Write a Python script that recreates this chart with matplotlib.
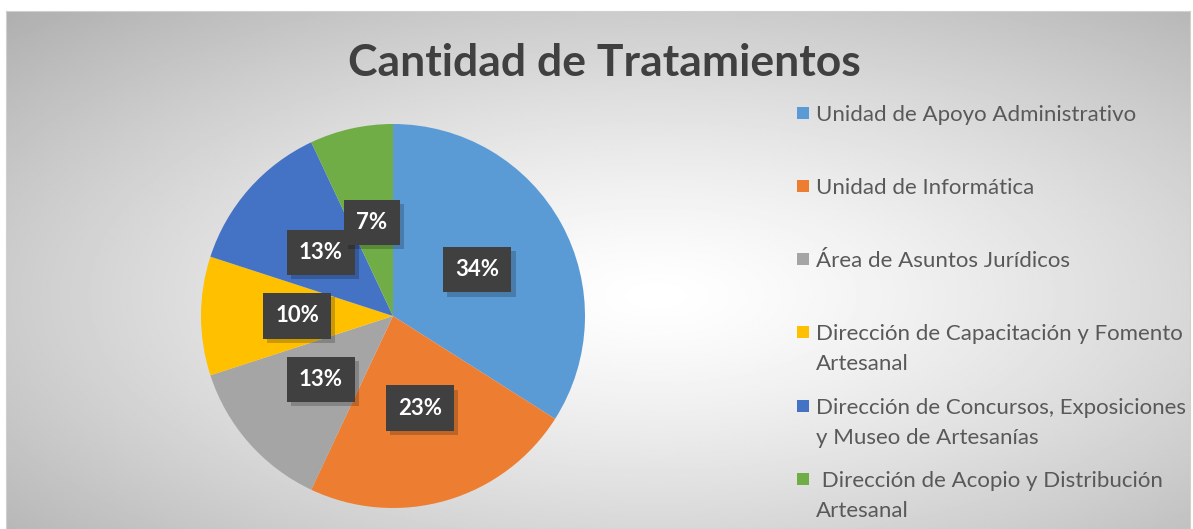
import numpy as np
import matplotlib.pyplot as plt
import matplotlib.patheffects as pe
from matplotlib.patches import Rectangle

# Data
labels = ['Unidad de Apoyo Administrativo',
          'Unidad de Informática',
          'Área de Asuntos Jurídicos',
          'Dirección de Capacitación y Fomento\nArtesanal',
          'Dirección de Concursos, Exposiciones\ny Museo de Artesanías',
          ' Dirección de Acopio y Distribución\nArtesanal']
values = [34, 23, 13, 10, 13, 7]
colors = ['#5B9BD5', '#ED7D31', '#A5A5A5', '#FFC000', '#4472C4', '#70AD47']

W, H = 1193, 529
fig = plt.figure(figsize=(W / 100, H / 100), dpi=100)
fig.patch.set_facecolor('white')

# Chart area with radial grey gradient
bg = fig.add_axes([6 / W, 0, (W - 9) / W, (H - 11) / H])
yy, xx = np.mgrid[0:1:300j, 0:1:600j]
d = np.sqrt(((xx - 0.55) / 0.75) ** 2 + ((yy - 0.45) / 0.75) ** 2)
shade = np.clip(1.0 - 0.30 * d ** 1.3, 0, 1)
bg.imshow(shade, cmap='gray', vmin=0, vmax=1, aspect='auto',
          extent=[0, 1, 0, 1], origin='lower')
bg.set_xticks([])
bg.set_yticks([])
for s in bg.spines.values():
    s.set_color('#d0d0d0')

# Pie
cx, cy, r = 393, H - 316, 192
ax = fig.add_axes([(cx - r) / W, (cy - r) / H, 2 * r / W, 2 * r / H])
wedges, _ = ax.pie(values, colors=colors, startangle=90, counterclock=False,
                   wedgeprops=dict(linewidth=0))
ax.set_xlim(-1, 1)
ax.set_ylim(-1, 1)
ax.set_aspect('auto')

total = sum(values)
start = 90.0
for v in values:
    mid = np.deg2rad(start - 360.0 * v / total / 2)
    start -= 360.0 * v / total
    t = ax.text(0.5 * np.cos(mid), 0.5 * np.sin(mid), f'{v}%',
                ha='center', va='center', color='white', fontsize=16,
                fontweight='bold', family='Lato',
                bbox=dict(boxstyle='square,pad=0.55', fc='#404040',
                          ec='none', lw=0))
    t.get_bbox_patch().set_path_effects([
        pe.SimplePatchShadow(offset=(3, -3), shadow_rgbFace='#000000',
                             alpha=0.2), pe.Normal()])

# Title
fig.text(604 / W, 1 - 63 / H, 'Cantidad de Tratamientos', ha='center',
         va='center', fontsize=32, fontweight='bold', color='#404040',
         family='Lato')

# Legend
ys = [113, 186, 259, 332, 406, 479]
for lab, col, y in zip(labels, colors, ys):
    fig.patches.append(Rectangle((797 / W, 1 - (y + 6) / H), 12 / W, 12 / H,
                                 transform=fig.transFigure, fc=col, ec='none'))
    fig.text(816 / W, 1 - (y - 8) / H, lab, ha='left', va='top',
             fontsize=16, color='#595959', family='Lato', linespacing=1.6)

fig.savefig('out.png', dpi=100)
